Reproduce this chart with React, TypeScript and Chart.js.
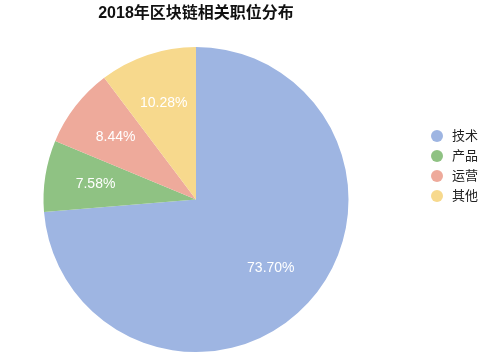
import React, { useEffect, useRef } from "react";
import { Chart, registerables } from "chart.js";

Chart.register(...registerables);

const titleText = "2018年区块链相关职位分布";
const categories = ["技术", "产品", "运营", "其他"];
const shares = [73.7, 7.58, 8.44, 10.28];
const colors = ["#9EB5E2", "#8FC283", "#EEAA9B", "#F7D98D"];

const FONT = '"Liberation Sans", Arial, "Noto Sans CJK SC", sans-serif';

const sliceLabels = {
  id: "sliceLabels",
  afterDatasetsDraw(chart: any) {
    const ctx = chart.ctx;
    const meta = chart.getDatasetMeta(0);
    ctx.save();
    ctx.font = `14px ${FONT}`;
    ctx.fillStyle = "#ffffff";
    ctx.textAlign = "center";
    ctx.textBaseline = "middle";
    meta.data.forEach((arc: any, i: number) => {
      const p = arc.getProps(["x", "y", "startAngle", "endAngle", "outerRadius"], true);
      const mid = (p.startAngle + p.endAngle) / 2;
      const r = p.outerRadius * 0.667;
      ctx.fillText(shares[i].toFixed(2) + "%", p.x + Math.cos(mid) * r, p.y + Math.sin(mid) * r);
    });
    ctx.restore();
  },
};

const sideLegend = {
  id: "sideLegend",
  afterDraw(chart: any) {
    const ctx = chart.ctx;
    const labels = chart.data.labels as string[];
    const bg = chart.data.datasets[0].backgroundColor as string[];
    ctx.save();
    ctx.font = `13px ${FONT}`;
    ctx.textBaseline = "middle";
    ctx.textAlign = "left";
    labels.forEach((lab, i) => {
      const y = 136 + i * 20;
      ctx.beginPath();
      ctx.fillStyle = bg[i];
      ctx.arc(437, y, 6, 0, Math.PI * 2);
      ctx.fill();
      ctx.fillStyle = "#222222";
      ctx.fillText(lab, 452, y);
    });
    ctx.restore();
  },
};

export default function App() {
  const ref = useRef<HTMLCanvasElement | null>(null);
  useEffect(() => {
    document.body.style.margin = "0";
    const canvas = ref.current!;
    const chart = new Chart(canvas, {
      type: "pie",
      data: {
        labels: categories,
        datasets: [
          {
            data: shares,
            backgroundColor: colors,
            borderWidth: 0,
          },
        ],
      },
      options: {
        responsive: false,
        animation: false,
        devicePixelRatio: 1,
        layout: { padding: { left: 43.5, right: 151.5, top: 0, bottom: 6 } },
        plugins: {
          legend: { display: false },
          tooltip: { enabled: false },
          title: {
            display: true,
            text: titleText,
            fullSize: false,
            color: "#111111",
            font: { size: 16, weight: "bold", family: FONT, lineHeight: 1.2 },
            padding: { top: 4.1, bottom: 23.7 },
          },
        },
      },
      plugins: [sliceLabels, sideLegend],
    });
    return () => chart.destroy();
  }, []);
  return (
    <div style={{ width: 500, height: 358 }}>
      <canvas ref={ref} width={500} height={358} style={{ display: "block" }} />
    </div>
  );
}
